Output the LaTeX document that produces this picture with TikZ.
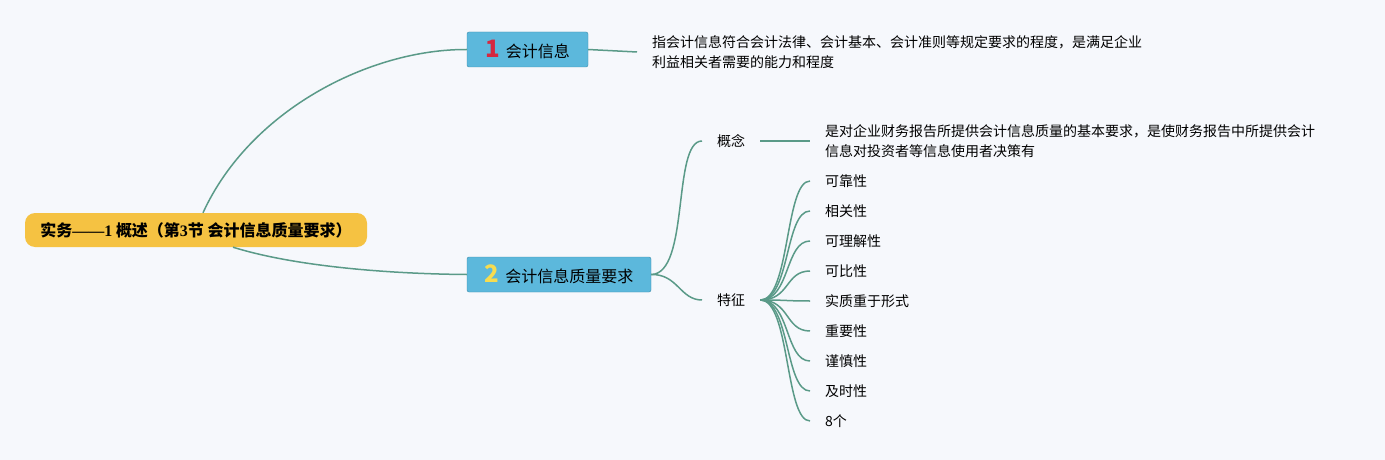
\documentclass[tikz,border=0pt]{standalone}
\usepackage{fontspec}
\setmainfont{Noto Sans CJK SC}
\newfontfamily\digitfont{Liberation Serif}
\usepackage{xcolor}
\usetikzlibrary{positioning}

\definecolor{pagebg}{RGB}{246,248,252}
\definecolor{rootyellow}{RGB}{245,194,66}
\definecolor{boxblue}{RGB}{92,184,220}
\definecolor{boxedge}{RGB}{62,140,170}
\definecolor{branchgreen}{RGB}{90,154,136}
\definecolor{numred}{RGB}{214,40,64}
\definecolor{numyellow}{RGB}{246,220,80}

\begin{document}
\begin{tikzpicture}[
    x=1pt, y=-1pt,
    font=\fontsize{14}{17}\selectfont,
    root/.style={rectangle, fill=rootyellow, rounded corners=10pt, minimum width=342pt, minimum height=34pt, font=\bfseries\fontsize{16}{18}\selectfont},
    topic/.style={rectangle, draw=boxedge, fill=boxblue, rounded corners=2pt, minimum height=35pt, font=\fontsize{16}{18}\selectfont},
    leaf/.style={inner xsep=15pt, inner ysep=0pt},
    note/.style={align=left, inner xsep=15pt, inner ysep=0pt, font=\fontsize{14}{20}\selectfont},
    branch/.style={draw=branchgreen, line width=1.5pt}
]
% Background
\fill [pagebg] (0,0) rectangle (1385,460);
\useasboundingbox (0,0) rectangle (1385,460);

% Root
\node (root) [root] at (196,230) {实务{\digitfont ——1} 概述（第{\digitfont 3}节 会计信息质量要求）};

% Main topics
\node (info) [topic, minimum width=121pt] at (527.5,49.5) {{\bfseries\fontsize{24}{24}\selectfont\color{numred}1}\hspace{6pt}会计信息};
\node (quality) [topic, minimum width=184pt] at (559,274.5) {{\bfseries\fontsize{24}{24}\selectfont\color{numyellow}2}\hspace{6pt}会计信息质量要求};

% Notes and sub topics
\node (infonote) [note, anchor=west] at (637,52) {指会计信息符合会计法律、会计基本、会计准则等规定要求的程度，是满足企业\\利益相关者需要的能力和程度};
\node (concept) [leaf, anchor=west] at (702,141) {概念};
\node (conceptnote) [note, anchor=west] at (810,141) {是对企业财务报告所提供会计信息质量的基本要求，是使财务报告中所提供会计\\信息对投资者等信息使用者决策有};
\node (feature) [leaf, anchor=west] at (702,300) {特征};

% Branches
\draw [branch] (root.north) ++(7,0) .. controls (250,110) and (370,49) .. (info.west);
\draw [branch] (root.south) ++(37,0) .. controls (300,268) and (400,274) .. (quality.west);
\draw [branch] (info.east) -- (infonote.west);
\draw [branch] (quality.east) .. controls (690,274) and (672,141) .. (concept.west);
\draw [branch] (quality.east) .. controls (678,274) and (680,300) .. (feature.west);
\draw [branch] (concept.east) -- (conceptnote.west);

% Features
\foreach \lbl [count=\i] in {可靠性,相关性,可理解性,可比性,实质重于形式,重要性,谨慎性,及时性,8个}
{
    \node (feat\i) [leaf, anchor=west] at (810,151+30*\i) {\lbl};
    \draw [branch] (feature.east) .. controls (790,300) and (785,151+30*\i) .. (feat\i.west);
}

\end{tikzpicture}
\end{document}
